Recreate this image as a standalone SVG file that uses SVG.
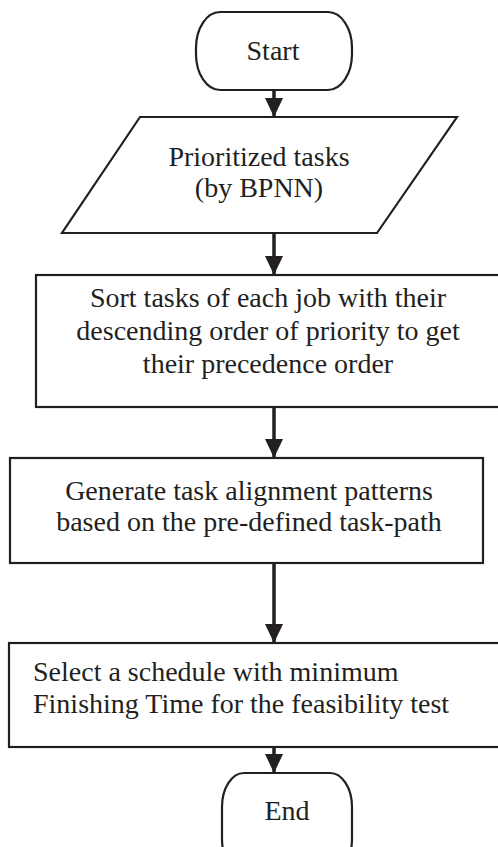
<svg xmlns="http://www.w3.org/2000/svg" width="498" height="847" viewBox="0 0 498 847">
  <style>
    .shape { fill: #ffffff; stroke: #231f20; stroke-width: 2.2; }
    .label { font-family: 'Tinos', 'Times New Roman', 'Liberation Serif', 'DejaVu Serif', 'Noto Serif', serif; font-size: 28px; fill: #231f20; }
    .mid { text-anchor: middle; }
    .flow { stroke: #231f20; stroke-width: 3.5; fill: none; }
  </style>
  <defs>
    <!-- solid triangular head, pointing along the line direction -->
    <marker id="head" markerUnits="userSpaceOnUse" markerWidth="20" markerHeight="18" refX="19" refY="9" orient="auto" viewBox="0 0 20 18">
      <path d="M0,0 L19,9 L0,18 Z" fill="#231f20"/>
    </marker>
  </defs>
  <rect width="498" height="847" fill="#ffffff"/>

  <g id="start">
    <rect class="shape" x="196" y="12" width="156" height="78" rx="24" ry="36"/>
    <text class="label mid" x="273" y="60">Start</text>
  </g>

  <g id="prioritized">
    <polygon class="shape" points="140,117 457,117 377,233 62,233"/>
    <text class="label mid" x="259" y="166">Prioritized tasks</text>
    <text class="label mid" x="259" y="197">(by BPNN)</text>
  </g>

  <g id="sort">
    <rect class="shape" x="36" y="275" width="470" height="132"/>
    <text class="label mid" x="268" y="307">Sort tasks of each job with their</text>
    <text class="label mid" x="268" y="340">descending order of priority to get</text>
    <text class="label mid" x="268" y="373">their precedence order</text>
  </g>

  <g id="generate">
    <rect class="shape" x="10" y="458" width="473" height="105"/>
    <text class="label mid" x="249" y="500">Generate task alignment patterns</text>
    <text class="label mid" x="249" y="531">based on the pre-defined task-path</text>
  </g>

  <g id="select">
    <rect class="shape" x="9" y="643" width="497" height="104"/>
    <text class="label" x="33" y="681">Select a schedule with minimum</text>
    <text class="label" x="33" y="713">Finishing Time for the feasibility test</text>
  </g>

  <g id="end">
    <rect class="shape" x="222" y="773" width="130" height="100" rx="22" ry="34"/>
    <text class="label mid" x="287" y="820">End</text>
  </g>

  <g id="connectors">
    <line class="flow" x1="274" y1="90" x2="274" y2="117" marker-end="url(#head)"/>
    <line class="flow" x1="274" y1="233" x2="274" y2="275" marker-end="url(#head)"/>
    <line class="flow" x1="274" y1="407" x2="274" y2="458" marker-end="url(#head)"/>
    <line class="flow" x1="274" y1="563" x2="274" y2="643" marker-end="url(#head)"/>
    <line class="flow" x1="274" y1="747" x2="274" y2="773" marker-end="url(#head)"/>
  </g>
</svg>
